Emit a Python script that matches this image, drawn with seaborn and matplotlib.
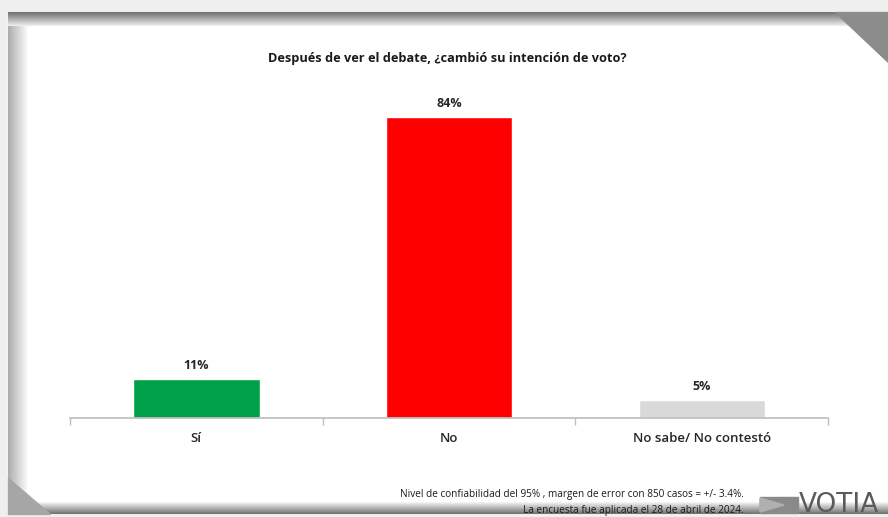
import numpy as np
import pandas as pd
import matplotlib
matplotlib.use("Agg")
import matplotlib.pyplot as plt
import seaborn as sns

# data
categorias = ["Sí", "No", "No sabe/ No contestó"]
porcentajes = [11, 84, 5]
colores = ["#00A04A", "#FF0000", "#D9D9D9"]

titulo = "Después de ver el debate, ¿cambió su intención de voto?"
nota_1 = "Nivel de confiabilidad del 95% , margen de error con 850 casos = +/- 3.4%."
nota_2 = "La encuesta fue aplicada el 28 de abril de 2024."

sns.set_theme(style="white")
plt.rcParams["font.family"] = ["Open Sans", "DejaVu Sans"]

W, H = 888, 517
fig = plt.figure(figsize=(W / 100, H / 100), dpi=100)
fig.patch.set_facecolor("#efefef")

# slide frame drawn in pixel coordinates
bg = fig.add_axes([0, 0, 1, 1], zorder=-10)
bg.axis("off")
bg.add_patch(plt.Rectangle((8, 12), W - 8, 500, color="white", zorder=1))
top = np.linspace(0.45, 0.92, 14).reshape(-1, 1)
bg.imshow(top, cmap="gray", vmin=0, vmax=1, extent=(8, W, 26, 12), aspect="auto", zorder=2)
left = np.linspace(0.6, 1.0, 20).reshape(1, -1)
bg.imshow(left, cmap="gray", vmin=0, vmax=1, alpha=0.8, extent=(8, 28, 505, 26),
          aspect="auto", zorder=2)
bottom = np.linspace(0.95, 0.45, 12).reshape(-1, 1)
bg.imshow(bottom, cmap="gray", vmin=0, vmax=1, extent=(8, W, 514, 502), aspect="auto", zorder=2)
bg.add_patch(plt.Polygon([(835, 12), (W, 12), (W, 62)], color="#8c8c8c", zorder=3))
bg.add_patch(plt.Polygon([(8, 478), (8, 514), (50, 514)], color="#a6a6a6", zorder=3))
bg.set_xlim(0, W)
bg.set_ylim(H, 0)

# main chart
ax = fig.add_axes([70 / W, 99 / H, 758 / W, 323 / H])
df = pd.DataFrame({"categoria": categorias, "pct": porcentajes})
sns.barplot(data=df, x="categoria", y="pct", hue="categoria", palette=colores,
            width=0.5, legend=False, ax=ax, saturation=1)
ax.set_ylim(0, 90)
ax.set_xlim(-0.5, 2.5)
ax.set_xlabel("")
ax.set_ylabel("")
ax.set_yticks([])
for s in ["top", "right", "left"]:
    ax.spines[s].set_visible(False)
ax.spines["bottom"].set_color("#bfbfbf")
ax.set_xticks([-0.5, 0.5, 1.5, 2.5], minor=True)
ax.tick_params(axis="x", which="minor", length=5, color="#bfbfbf", direction="out", bottom=True)
ax.tick_params(axis="x", which="major", length=0, pad=10, labelsize=9.5, colors="#262626")
for lbl in ax.get_xticklabels():
    lbl.set_fontweight("semibold")
ax.set_facecolor("none")

for cont in ax.containers:
    ax.bar_label(cont, labels=[f"{v:.0f}%" for v in cont.datavalues],
                 padding=5, fontsize=9, fontweight="bold", color="#262626")

fig.text(447 / W, 1 - 58 / H, titulo, ha="center", va="center",
         fontsize=9.2, fontweight="bold", color="#1a1a1a")
fig.text(744 / W, 1 - 494 / H, nota_1, ha="right", va="center", fontsize=7.2, color="#1a1a1a")
fig.text(744 / W, 1 - 510 / H, nota_2, ha="right", va="center", fontsize=7.2, color="#1a1a1a")

# VOTIA logo
bg.add_patch(plt.Polygon([(760, 497), (798, 497), (798, 513), (760, 513)], color="#8a8a8a", zorder=4))
bg.add_patch(plt.Polygon([(760, 498), (784, 505), (760, 512)], color="#b0b0b0", zorder=5))
fig.text(799 / W, 1 - 505 / H, "VOTIA", ha="left", va="center", fontsize=19,
         color="#5a5a5a", family=["DejaVu Sans"])

fig.savefig("out.png", dpi=100)
